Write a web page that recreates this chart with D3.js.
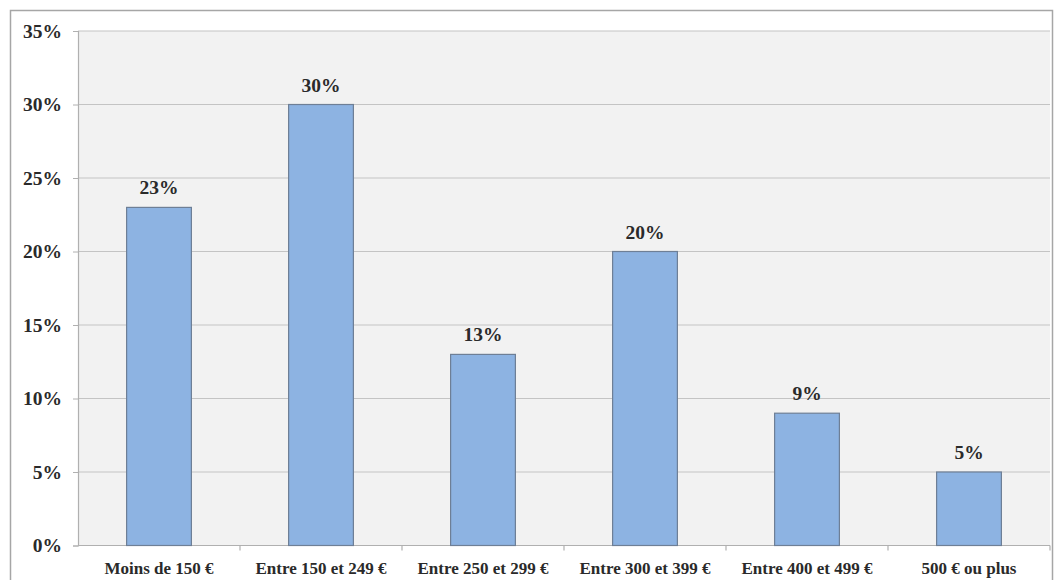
<!DOCTYPE html>
<html><head><meta charset="utf-8">
<script src="https://cdn.jsdelivr.net/npm/d3@7"></script>
<style>body{margin:0;background:#fff}svg{display:block}</style>
</head><body>
<svg id="c" width="1056" height="580"></svg>
<script>
const categories = ["Moins de 150 €","Entre 150 et 249 €","Entre 250 et 299 €","Entre 300 et 399 €","Entre 400 et 499 €","500 € ou plus"];
const values = [23,30,13,20,9,5];
const yTicks = [0,5,10,15,20,25,30,35];

const svg = d3.select("#c");
const font = "'Liberation Serif','Times New Roman',serif";
const L=78, R=1050, T=31, B=545.5;

svg.append("rect").attr("x",10.5).attr("y",10.5).attr("width",1042).attr("height",600)
  .attr("fill","#fff").attr("stroke","#a6a6a6").attr("stroke-width",1.5);

const x = d3.scaleBand().domain(categories).range([L,R]).paddingInner(0.6).paddingOuter(0.3);
const xb = d3.scaleBand().domain(categories).range([L,R]);
const y = d3.scaleLinear().domain([0,35]).range([B,T]);

svg.append("rect").attr("x",L).attr("y",T).attr("width",R-L).attr("height",B-T).attr("fill","#f2f2f2");

svg.append("g").selectAll("line").data(yTicks.filter(d=>d>0)).join("line")
  .attr("x1",L).attr("x2",R).attr("y1",d=>y(d)).attr("y2",d=>y(d))
  .attr("stroke","#c4c4c4").attr("stroke-width",1.2);

const ya = svg.append("g").attr("transform",`translate(${L},0)`)
  .call(d3.axisLeft(y).tickValues(yTicks).tickFormat(d=>d+"%").tickSize(5).tickPadding(11));
ya.select(".domain").attr("stroke","#b0b0b0").attr("stroke-width",1.2);
ya.selectAll(".tick line").attr("stroke","#b0b0b0");
ya.selectAll("text").attr("font-family",font).attr("font-weight","bold").attr("font-size",19.5).attr("fill","#2a2a2a");

// x axis baseline and ticks at category boundaries
svg.append("line").attr("x1",L).attr("x2",R).attr("y1",B).attr("y2",B).attr("stroke","#b0b0b0").attr("stroke-width",1.2);
svg.append("g").selectAll("line").data(categories).join("line")
  .attr("x1",d=>xb(d)+xb.bandwidth()).attr("x2",d=>xb(d)+xb.bandwidth())
  .attr("y1",B).attr("y2",B+5).attr("stroke","#b0b0b0").attr("stroke-width",1.2);
svg.append("g").selectAll("text").data(categories).join("text")
  .attr("x",d=>xb(d)+xb.bandwidth()/2).attr("y",574).attr("text-anchor","middle")
  .attr("font-family",font).attr("font-weight","bold").attr("font-size",17).attr("fill","#2a2a2a")
  .text(d=>d);

svg.append("g").selectAll("rect").data(values).join("rect")
  .attr("x",(d,i)=>x(categories[i])).attr("width",x.bandwidth())
  .attr("y",d=>y(d)).attr("height",d=>B-y(d))
  .attr("fill","#8db3e2").attr("stroke","#6e7f96").attr("stroke-width",1.2);

svg.append("g").selectAll("text").data(values).join("text")
  .attr("x",(d,i)=>x(categories[i])+x.bandwidth()/2).attr("y",d=>y(d)-13)
  .attr("text-anchor","middle").attr("font-family",font).attr("font-weight","bold")
  .attr("font-size",19.5).attr("fill","#2a2a2a").text(d=>d+"%");
</script>
</body></html>
